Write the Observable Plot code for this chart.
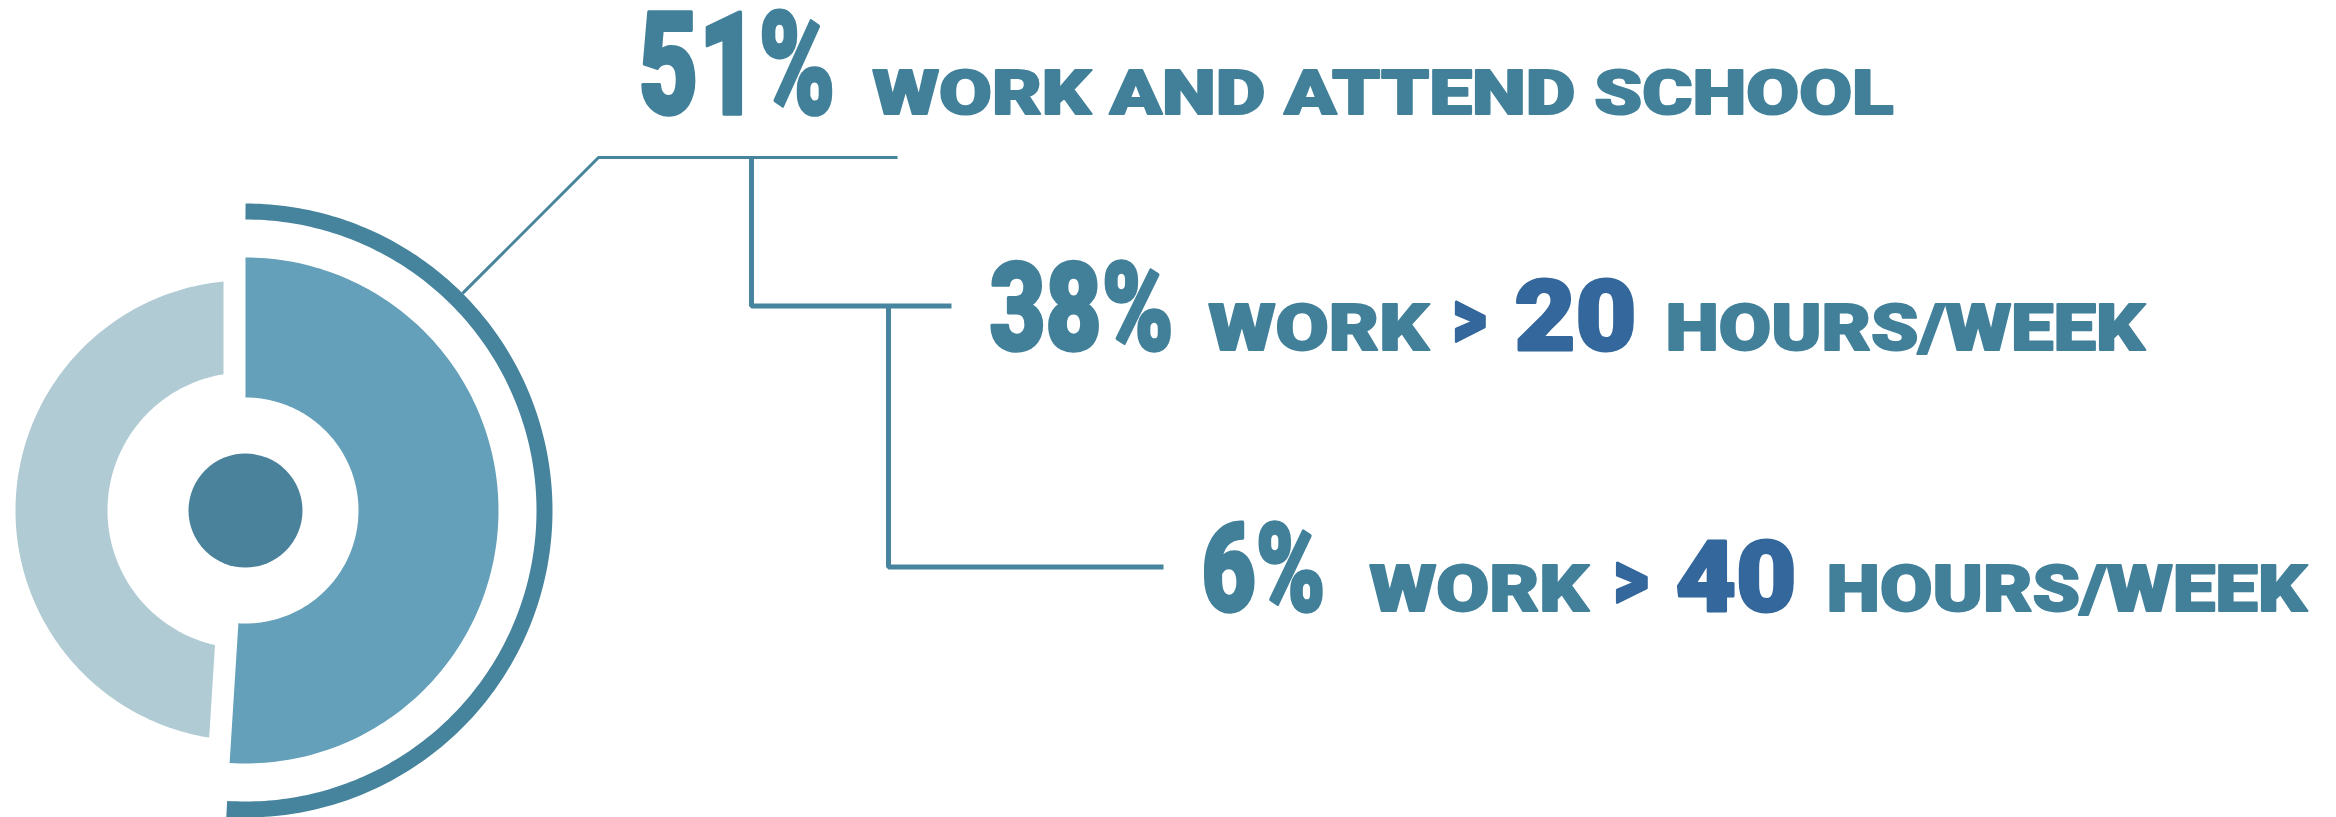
<!DOCTYPE html>
<html>
<head>
<meta charset="utf-8">
<script src="https://cdn.jsdelivr.net/npm/d3@7"></script>
<script src="https://cdn.jsdelivr.net/npm/@observablehq/plot@0.6"></script>
<style>
  html, body { margin: 0; padding: 0; background: #ffffff; overflow: hidden; }
</style>
</head>
<body>
<div id="chart"></div>
<script>
// ---------------- DATA ----------------
const shares = [51, 38, 6];                       // percent of working students
const descriptions = ["WORK AND ATTEND SCHOOL", "WORK", "WORK"];
const hourThresholds = [null, 20, 40];            // hours per week
const comparator = ">";
const unitLabel = "HOURS/WEEK";
const donutShares = [shares[0], 100 - shares[0]]; // highlighted share vs rest

// ---------------- STYLE / LAYOUT ----------------
const W = 2336, H = 817;
const colors = {
  main: "#64a0b9", rest: "#b0cbd4", dot: "#4a829c", ring: "#46839d",
  text: "#42809a", hours: "#34679b", line: "#47849e"
};
const geo = {
  cx: 245, cy: 510,
  main: [113, 253], rest: [138, 230], gap: 22,
  ring: 299, ringWidth: 16, dot: 57,
  leaderR: 307, leaderY: 157, leaderEnd: 897
};
const rowLayout = [
  {pctX: 638, pctW: 197, base: 113, cap: 101, wordX: 872, wordW: 1021, wordCap: 44},
  {pctX: 989, pctW: 184, base: 349, cap: 87, wordX: 1208, wordW: 220, wordCap: 46,
   gtX: 1452, gtW: 34, hrsX: 1514, hrsW: 122, hrsCap: 70, unitX: 1665, unitW: 479},
  {pctX: 1201, pctW: 124, base: 610, cap: 87, wordX: 1369, wordW: 219, wordCap: 46,
   gtX: 1613, gtW: 35, hrsX: 1675, hrsW: 121, hrsCap: 70, unitX: 1826, unitW: 480}
];
const branchX = [751, 888];      // vertical connector x positions
const FONT = "Roboto, Inter, 'Liberation Sans', sans-serif";
const CAP = 0.711;

// ---------------- GEOMETRY FROM DATA ----------------
const TAU = Math.PI * 2;
const polar = (r, a) => ({x: geo.cx + r * Math.sin(a), y: geo.cy - r * Math.cos(a)});
function sector(a0, a1, r0, r1, g0, g1, n = 160) {
  const pts = [];
  const o0 = a0 + Math.asin(g0 / r1), o1 = a1 - Math.asin(g1 / r1);
  for (let i = 0; i <= n; i++) pts.push(polar(r1, o0 + (o1 - o0) * i / n));
  const i0 = a0 + Math.asin(g0 / r0), i1 = a1 - Math.asin(g1 / r0);
  for (let i = n; i >= 0; i--) pts.push(polar(r0, i0 + (i1 - i0) * i / n));
  return pts;
}
const aSplit = donutShares[0] / 100 * TAU;
const mainPts = sector(0, aSplit, geo.main[0], geo.main[1], 0, 0);
const restPts = sector(aSplit, TAU, geo.rest[0], geo.rest[1], geo.gap, geo.gap);
const ringPts = d3.range(0, 201).map(i => polar(geo.ring, aSplit * i / 200));

const leaderStart = polar(geo.leaderR, TAU / 8);
const leaderPts = [leaderStart, {x: geo.cx + (geo.cy - geo.leaderY), y: geo.leaderY}, {x: geo.leaderEnd, y: geo.leaderY}];

const rows = shares.map((s, i) => ({
  label: `${s}%`, desc: descriptions[i], hours: hourThresholds[i], ...rowLayout[i]
}));
const hourRows = rows.filter(d => d.hours != null);
const midY = d => d.base - d.cap / 2;
const branches = hourRows.map((d, i) => {
  const topY = i === 0 ? geo.leaderY : midY(hourRows[i - 1]);
  return [{x: branchX[i], y: topY}, {x: branchX[i], y: midY(d)}, {x: d.pctX - 38, y: midY(d)}];
});

const textCommon = {textAnchor: "start", lineAnchor: "bottom", fontFamily: FONT, fontWeight: 900, strokeLinejoin: "round"};

const marks = [
  Plot.line(restPts, {x: "x", y: "y", fill: colors.rest, stroke: "none"}),
  Plot.line(mainPts, {x: "x", y: "y", fill: colors.main, stroke: "none"}),
  Plot.line(ringPts, {x: "x", y: "y", stroke: colors.ring, strokeWidth: geo.ringWidth, strokeLinecap: "butt"}),
  Plot.dot([{x: geo.cx, y: geo.cy}], {x: "x", y: "y", r: geo.dot, fill: colors.dot, stroke: "none"}),
  Plot.line(leaderPts, {x: "x", y: "y", stroke: colors.line, strokeWidth: 3, strokeLinecap: "butt", strokeLinejoin: "miter"}),
  ...branches.map(b => Plot.line(b, {x: "x", y: "y", stroke: colors.line, strokeWidth: 5, strokeLinecap: "butt", strokeLinejoin: "miter"})),
];
const textSpecs = [
  {name: "pct", data: rows, x: "pctX", w: "pctW", text: "label", size: d => d.cap / CAP, fill: colors.text, sw: 3.5},
  {name: "desc", data: rows, x: "wordX", w: "wordW", text: "desc", size: d => d.wordCap / CAP, fill: colors.text, sw: 2},
  {name: "gt", data: hourRows, x: "gtX", w: "gtW", text: () => comparator, size: d => d.wordCap / CAP * 1.25, fill: colors.hours, dy: -4, sw: 3},
  {name: "hrs", data: hourRows, x: "hrsX", w: "hrsW", text: d => String(d.hours), size: d => d.hrsCap / CAP, fill: colors.hours, sw: 3},
  {name: "unit", data: hourRows, x: "unitX", w: "unitW", text: () => unitLabel, size: d => d.wordCap / CAP, fill: colors.text, sw: 2},
];
for (const s of textSpecs) {
  marks.push(Plot.text(s.data, {
    ...textCommon, x: s.x, y: "base", text: s.text, fontSize: s.size, fill: s.fill,
    stroke: s.fill, strokeWidth: s.sw, dy: s.dy || 0
  }));
}

const svg = Plot.plot({
  width: W, height: H, margin: 0,
  style: {background: "#ffffff", overflow: "visible"},
  x: {domain: [0, W], range: [0, W], axis: null},
  y: {domain: [0, H], range: [0, H], axis: null},
  marks
});

// fit each label to its measured width (text elements appear in mark order)
const widths = textSpecs.flatMap(s => s.data.map(d => d[s.w]));
const textEls = svg.querySelectorAll("text");
textEls.forEach((t, i) => {
  if (widths[i] == null) return;
  t.setAttribute("textLength", widths[i]);
  t.setAttribute("lengthAdjust", "spacingAndGlyphs");
  t.setAttribute("paint-order", "stroke");
});
document.getElementById("chart").appendChild(svg);
</script>
</body>
</html>
